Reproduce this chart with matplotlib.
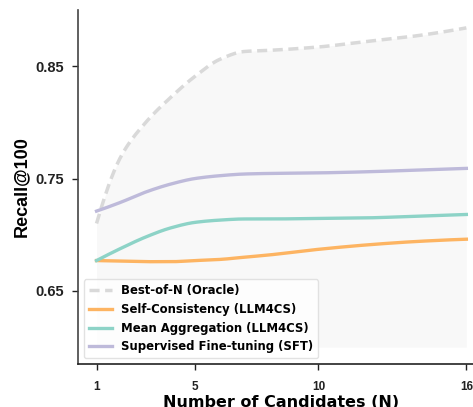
import numpy as np
import matplotlib
matplotlib.use("Agg")
from matplotlib import pyplot as plt

# Recall@100 en fonction du nombre de candidats N
n_candidats = [1, 2, 3, 4, 5, 6, 7, 8, 10, 12, 14, 16]
recall_oracle = [0.710, 0.770, 0.800, 0.822, 0.841, 0.856, 0.863, 0.864, 0.867, 0.872, 0.877, 0.884]
recall_self_consistency = [0.677, 0.6765, 0.676, 0.676, 0.677, 0.678, 0.680, 0.682, 0.687, 0.691, 0.694, 0.696]
recall_mean_agg = [0.677, 0.688, 0.698, 0.706, 0.711, 0.713, 0.714, 0.714, 0.7145, 0.715, 0.7165, 0.718]
recall_sft = [0.721, 0.729, 0.738, 0.745, 0.750, 0.7525, 0.754, 0.7545, 0.755, 0.756, 0.7575, 0.759]

labels = [
    "Best-of-N (Oracle)",
    "Self-Consistency (LLM4CS)",
    "Mean Aggregation (LLM4CS)",
    "Supervised Fine-tuning (SFT)",
]
xticks = [1, 5, 10, 16]
yticks = [0.65, 0.75, 0.85]
plancher = 0.60


def pchip(x, y, xs):
    """Interpolation d'Hermite monotone (équivalent PCHIP), sans scipy."""
    x = np.asarray(x, float)
    y = np.asarray(y, float)
    h = np.diff(x)
    d = np.diff(y) / h
    m = np.zeros_like(y)
    for k in range(1, len(x) - 1):
        if d[k - 1] * d[k] > 0:
            w1 = 2 * h[k] + h[k - 1]
            w2 = h[k] + 2 * h[k - 1]
            m[k] = (w1 + w2) / (w1 / d[k - 1] + w2 / d[k])
    for i, (h0, h1, d0, d1) in ((0, (h[0], h[1], d[0], d[1])), (-1, (h[-1], h[-2], d[-1], d[-2]))):
        v = ((2 * h0 + h1) * d0 - h0 * d1) / (h0 + h1)
        if np.sign(v) != np.sign(d0):
            v = 0.0
        elif np.sign(d0) != np.sign(d1) and abs(v) > abs(3 * d0):
            v = 3 * d0
        m[i] = v
    idx = np.clip(np.searchsorted(x, xs) - 1, 0, len(x) - 2)
    t = (xs - x[idx]) / h[idx]
    h00 = 2 * t**3 - 3 * t**2 + 1
    h10 = t**3 - 2 * t**2 + t
    h01 = -2 * t**3 + 3 * t**2
    h11 = t**3 - t**2
    return h00 * y[idx] + h10 * h[idx] * m[idx] + h01 * y[idx + 1] + h11 * h[idx] * m[idx + 1]


xs = np.linspace(min(n_candidats), max(n_candidats), 400)
series = [recall_oracle, recall_self_consistency, recall_mean_agg, recall_sft]
couleurs = ["#d9d9d9", "#fdb462", "#8dd3c7", "#bebada"]

fig = plt.figure(figsize=(4.73, 4.07), dpi=100)
ax = fig.add_axes([0.165, 0.1057, 0.86, 0.87])

oracle_lisse = pchip(n_candidats, recall_oracle, xs)
ax.fill_between(xs, plancher, oracle_lisse, color="#f8f8f8", zorder=0, linewidth=0)

for i, (vals, c, lab) in enumerate(zip(series, couleurs, labels)):
    ys = pchip(n_candidats, vals, xs)
    if i == 0:
        ax.plot(xs, ys, color=c, lw=2.5, linestyle=(0, (2.9, 1.6)), label=lab, zorder=2)
    else:
        ax.plot(xs, ys, color=c, lw=2.4, label=lab, zorder=3)

ax.set_xlim(0.25, 16.75)
ax.set_ylim(0.585, 0.90)
ax.set_xticks(xticks)
ax.set_xticklabels([str(v) for v in xticks], fontfamily="Liberation Sans",
                   fontweight="bold", fontsize=8.5)
ax.set_yticks(yticks)
ax.set_yticklabels([f"{v:.2f}" for v in yticks], fontfamily="Liberation Sans",
                   fontweight="bold", fontsize=10.5)
ax.tick_params(axis="x", length=4, width=1, pad=8, colors="#222222")
ax.tick_params(axis="y", length=4, width=1, pad=6, colors="#222222")

for s in ("top", "right"):
    ax.spines[s].set_visible(False)
ax.spines["left"].set_color("#444444")
ax.spines["bottom"].set_color("#222222")
ax.spines["left"].set_linewidth(1.2)
ax.spines["bottom"].set_linewidth(1.2)

ax.set_xlabel("Number of Candidates (N)", fontfamily="DejaVu Sans",
              fontweight="bold", fontsize=11.5, labelpad=2)
ax.set_ylabel("Recall@100", fontfamily="Liberation Sans",
              fontweight="bold", fontsize=13, labelpad=4)

leg = ax.legend(loc="lower left", prop={"family": "DejaVu Sans", "weight": "bold", "size": 8.4},
                frameon=True, fancybox=True, framealpha=0.85, edgecolor="#dddddd")

fig.savefig("out.png", dpi=100)
